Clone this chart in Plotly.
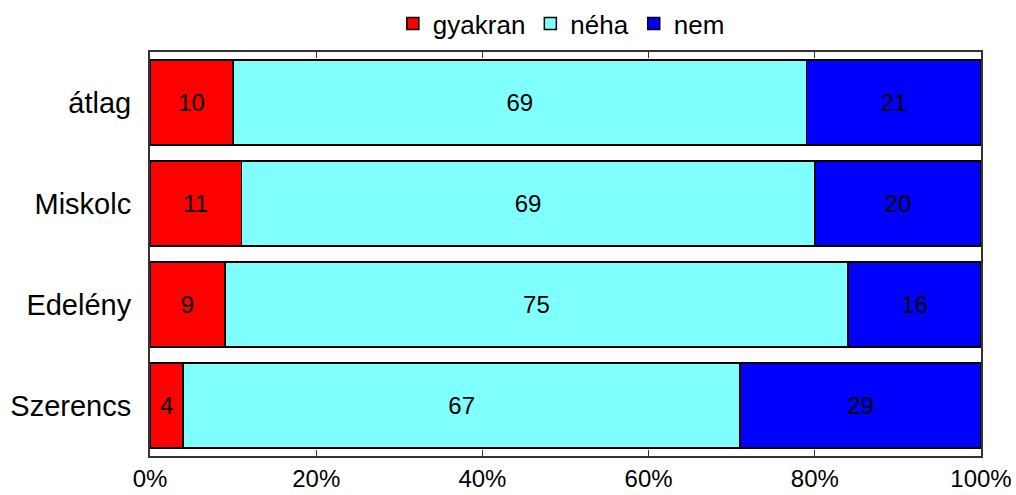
import plotly.graph_objects as go

categories = ["átlag", "Miskolc", "Edelény", "Szerencs"]
series_names = ["gyakran", "néha", "nem"]
gyakran = [10, 11, 9, 4]
neha = [69, 69, 75, 67]
nem = [21, 20, 16, 29]
colors = ["#FF0000", "#80FFFF", "#0000FF"]
tick_vals = [0, 20, 40, 60, 80, 100]
tick_text = ["0%", "20%", "40%", "60%", "80%", "100%"]

FONT = "Liberation Sans, Arial, sans-serif"

fig = go.Figure()
for name, vals, col in zip(series_names, [gyakran, neha, nem], colors):
    fig.add_trace(go.Bar(
        name=name,
        y=categories,
        x=vals,
        orientation="h",
        marker=dict(color=col, line=dict(color="#000000", width=1.5)),
        text=[str(v) for v in vals],
        textposition="inside",
        insidetextanchor="middle",
        textangle=0,
        constraintext="none",
        textfont=dict(family=FONT, size=24, color="#000000"),
        hoverinfo="skip",
    ))

fig.update_layout(
    barmode="stack",
    bargap=0.16,
    width=1016,
    height=495,
    margin=dict(l=150, r=35, t=52, b=39, autoexpand=False),
    plot_bgcolor="#FFFFFF",
    paper_bgcolor="#FFFFFF",
    font=dict(family=FONT, color="#000000"),
    showlegend=True,
    legend=dict(
        orientation="h",
        x=0.495,
        xanchor="center",
        y=1.0,
        yanchor="top",
        yref="container",
        font=dict(family=FONT, size=26, color="#000000"),
        itemwidth=30,
        traceorder="normal",
        tracegroupgap=0,
        bgcolor="rgba(0,0,0,0)",
        borderwidth=0,
    ),
    xaxis=dict(
        range=[0, 100],
        tickmode="array",
        tickvals=tick_vals,
        ticktext=tick_text,
        ticks="inside",
        ticklen=6,
        tickcolor="#333333",
        showgrid=False,
        zeroline=False,
        showline=True,
        linecolor="#333333",
        linewidth=2,
        mirror="ticks",
        automargin=False,
        ticklabelstandoff=0,
        tickfont=dict(family=FONT, size=24, color="#000000"),
        fixedrange=True,
    ),
    yaxis=dict(
        categoryorder="array",
        categoryarray=categories,
        autorange="reversed",
        showgrid=False,
        zeroline=False,
        showline=True,
        linecolor="#333333",
        linewidth=2,
        mirror=True,
        ticks="",
        automargin=False,
        ticklabelstandoff=11,
        tickfont=dict(family=FONT, size=29, color="#000000"),
        fixedrange=True,
    ),
)

fig.write_html(
    "out.html",
    config={"displayModeBar": False},
    post_script="document.body.style.margin='0';document.body.style.padding='0';",
)
